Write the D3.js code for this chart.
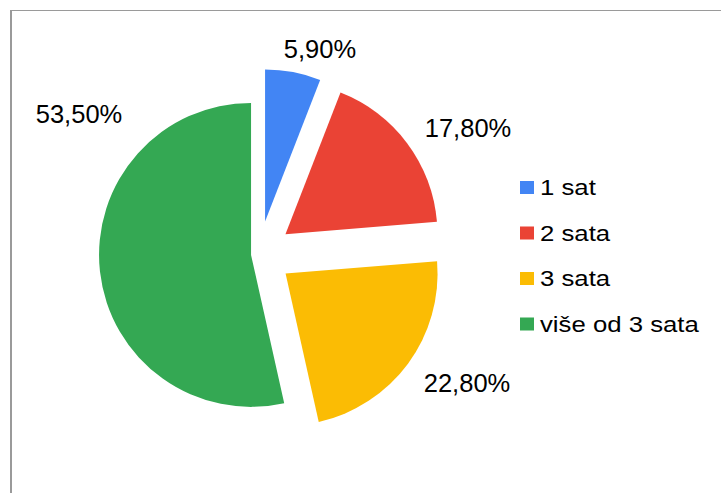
<!DOCTYPE html>
<html lang="hr">
<head>
<meta charset="utf-8">
<title>Pie chart</title>
<script src="https://d3js.org/d3.v7.min.js"></script>
<style>
  body { margin: 0; background: #fff; }
  text { font-family: Arial, "Liberation Sans", sans-serif; fill: #000; }
</style>
</head>
<body>
<script>
// data
var categories = ["1 sat", "2 sata", "3 sata", "više od 3 sata"];
var values = [5.9, 17.8, 22.8, 53.5];
var valueLabels = ["5,90%", "17,80%", "22,80%", "53,50%"];
var colors = ["#4285F4", "#EA4335", "#FBBC04", "#34A853"];

// layout
var width = 721, height = 493;
var cx = 259, cy = 254, radius = 152;
var explode = [33, 33, 33, 8];
// label baseline positions relative to the pie center
var labelOffsets = [[61, -196], [209, -117], [208, 138], [-180, -131]];

var svg = d3.select("body").append("svg")
  .attr("width", width)
  .attr("height", height);

// frame
svg.append("line")
  .attr("x1", 11).attr("y1", 10).attr("x2", 11).attr("y2", height)
  .attr("stroke", "#9a9a9a").attr("stroke-width", 2);
svg.append("line")
  .attr("x1", 10).attr("y1", 10.5).attr("x2", width).attr("y2", 10.5)
  .attr("stroke", "#9a9a9a").attr("stroke-width", 1);

var pie = d3.pie().sort(null).value(function(d){ return d; });
var arc = d3.arc().innerRadius(0).outerRadius(radius);
var arcs = pie(values);

var g = svg.append("g").attr("transform", "translate(" + cx + "," + cy + ")");

g.selectAll("path")
  .data(arcs)
  .enter()
  .append("path")
  .attr("d", arc)
  .attr("fill", function(d, i){ return colors[i]; })
  .attr("transform", function(d, i){
    var a = (d.startAngle + d.endAngle) / 2;
    return "translate(" + (Math.sin(a) * explode[i]) + "," + (-Math.cos(a) * explode[i]) + ")";
  });

g.selectAll("text.lbl")
  .data(arcs)
  .enter()
  .append("text")
  .attr("class", "lbl")
  .attr("x", function(d, i){ return labelOffsets[i][0]; })
  .attr("y", function(d, i){ return labelOffsets[i][1]; })
  .attr("text-anchor", "middle")
  .style("font-size", "25.5px")
  .text(function(d, i){ return valueLabels[i]; });

// legend
var legend = svg.append("g").attr("transform", "translate(520,195)");
var item = legend.selectAll("g")
  .data(categories)
  .enter()
  .append("g")
  .attr("transform", function(d, i){ return "translate(0," + (i * 45.5) + ")"; });

item.append("rect")
  .attr("x", 0).attr("y", -14)
  .attr("width", 14).attr("height", 13)
  .attr("fill", function(d, i){ return colors[i]; });

// legend glyphs are a bit wider than plain Arial in the original
item.append("text")
  .attr("transform", "translate(20,0) scale(1.17,1)")
  .style("font-size", "22px")
  .text(function(d){ return d; });
</script>
</body>
</html>
